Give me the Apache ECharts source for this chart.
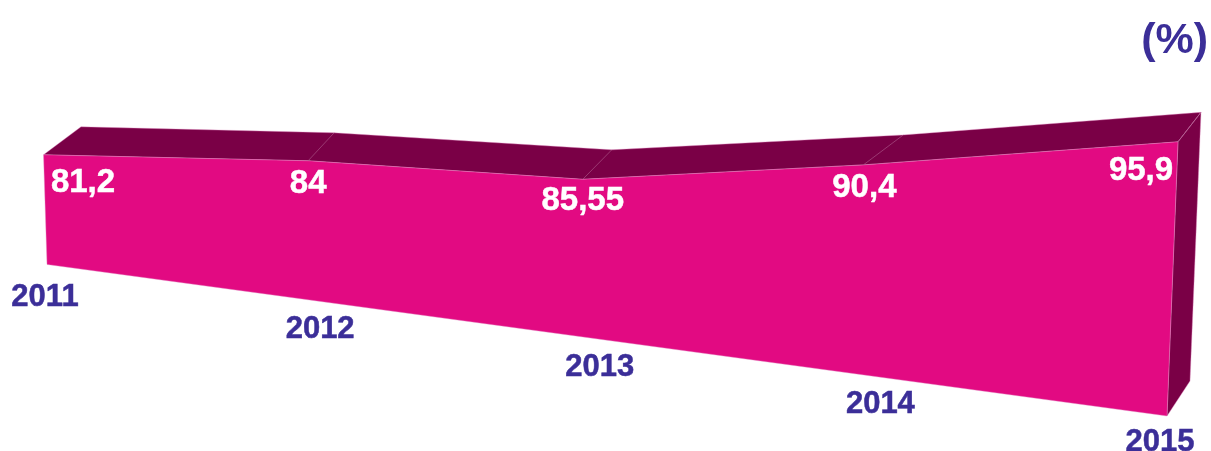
<!DOCTYPE html>
<html>
<head>
<meta charset="utf-8">
<style>html,body{margin:0;padding:0;background:#fff}#c{width:1211px;height:451px}</style>
<script src="https://cdn.jsdelivr.net/npm/echarts@6/dist/echarts.min.js"></script>
</head>
<body>
<div id="c"></div>
<script>
// ---- data ----
var years = ['2011', '2012', '2013', '2014', '2015'];
var values = [81.2, 84, 85.55, 90.4, 95.9];
var valueLabels = ['81,2', '84', '85,55', '90,4', '95,9'];
var unitLabel = '(%)';

// ---- 3D look: how the flat axes are bent into the tilted slab ----
var axisMin = 71.4, axisMax = 96;
var floorSlope = 0.1353;           // the floor falls to the right
var floorRefX = 1167;              // x where the floor meets the grid bottom
var nudgeX = [0, -19, -28, -31, 0];
var nudgeY = [0, 2, 0.7, 2.6, 0];
var lean = [3.5, 0, 0, 0, -11];    // front face corners lean inwards at the floor
var depthX = [37.5, 26, 29, 40, 23];
var depthY = [-28, -28, -29.5, -30, -29.5];
var floorDepth = [23, -35];
var labelOffset = [[39.5, 28], [0, 23], [0, 22], [1, 23], [-37, 29]];
var yearOffset = [[-2, 33], [12, 30], [17, 31], [17, 30], [-7, 26]];

var FRONT = '#e20a82', SIDE = '#7a0046', INK = '#3b2e98', EDGE = '#e48fc4';
var FONT = '"Liberation Sans", Arial, sans-serif';

function poly(points, fill) {
  return {type: 'polygon', shape: {points: points},
    style: {fill: fill, stroke: EDGE, lineWidth: 0.4}};
}
function renderItem(params, api) {
  function top(i) {
    var p = api.coord([i, values[i]]);
    var x = p[0] + nudgeX[i];
    return [x, p[1] + nudgeY[i] - floorSlope * (floorRefX - x - lean[i])];
  }
  function floor(i) {
    var p = api.coord([i, axisMin]);
    var x = p[0] + nudgeX[i] + lean[i];
    return [x, p[1] - floorSlope * (floorRefX - x)];
  }
  function back(i) {
    var t = top(i);
    return [t[0] + depthX[i], t[1] + depthY[i]];
  }
  var i = params.dataIndex, n = values.length, kids = [];
  if (i === 0) {
    var roof = [], front = [], k;
    for (k = 0; k < n; k++) { roof.push(top(k)); front.push(top(k)); }
    for (k = n - 1; k >= 0; k--) { roof.push(back(k)); }
    front.push(floor(n - 1)); front.push(floor(0));
    var f = floor(n - 1);
    kids.push(poly(roof, SIDE));
    kids.push(poly([top(n - 1), back(n - 1), [f[0] + floorDepth[0], f[1] + floorDepth[1]], f], SIDE));
    kids.push(poly(front, FRONT));
  }
  if (i > 0) {
    var a = top(i), b = back(i);
    kids.push({type: 'line', shape: {x1: a[0], y1: a[1], x2: b[0], y2: b[1]},
      style: {stroke: '#b0608f', lineWidth: 0.6}});
  }
  var t = top(i), g = floor(i);
  kids.push({type: 'text', z2: 10, style: {
    text: valueLabels[i], x: t[0] + labelOffset[i][0], y: t[1] + labelOffset[i][1],
    fill: '#ffffff', stroke: '#ffffff', lineWidth: 0.5,
    font: 'bold 33px ' + FONT, align: 'center', verticalAlign: 'middle'}});
  kids.push({type: 'text', z2: 10, style: {
    text: years[i], x: g[0] + yearOffset[i][0], y: g[1] + yearOffset[i][1],
    fill: INK, stroke: INK, lineWidth: 0.5,
    font: 'bold 31px ' + FONT, align: 'center', verticalAlign: 'middle'}});
  return {type: 'group', children: kids};
}

var chart = echarts.init(document.getElementById('c'), null, {renderer: 'canvas'});
chart.setOption({
  animation: false,
  backgroundColor: '#ffffff',
  title: {
    text: unitLabel, right: 3, top: 20, padding: 0,
    textStyle: {color: INK, fontFamily: FONT, fontWeight: 'bold', fontSize: 43}
  },
  grid: {left: 43.5, right: 33, top: 140.7, bottom: 35},
  xAxis: {type: 'category', data: years, boundaryGap: false, show: false},
  yAxis: {type: 'value', min: axisMin, max: axisMax, show: false},
  series: [{
    type: 'custom',
    renderItem: renderItem,
    clip: false,
    encode: {x: 0, y: 1},
    data: values.map(function (v, i) { return [i, v]; })
  }]
});
</script>
</body>
</html>
